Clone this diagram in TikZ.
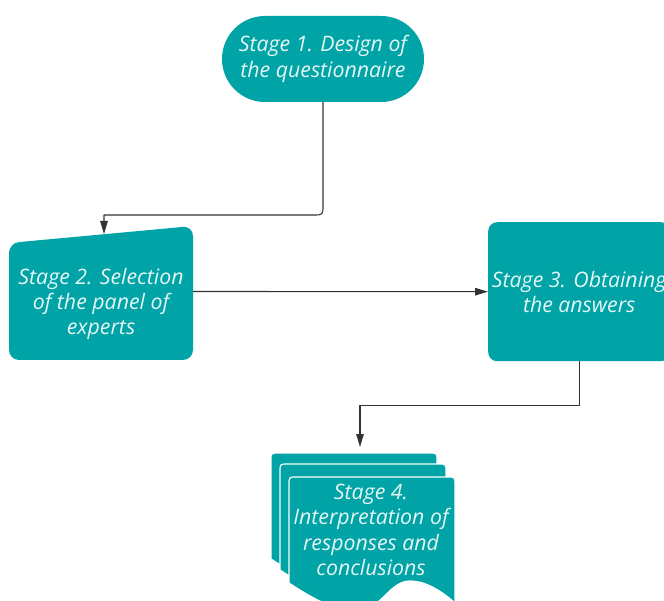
\documentclass[tikz,border=0pt]{standalone}
\usepackage{fontspec}
\setmainfont{Open Sans}
\usetikzlibrary{arrows.meta}
\definecolor{stageteal}{HTML}{00A3A6}
\definecolor{stagetext}{HTML}{E4F6F5}
\definecolor{linkgray}{HTML}{333333}
\begin{document}
\begin{tikzpicture}[x=1pt, y=-1pt, font=\fontsize{21.3}{25.3}\selectfont\itshape, line join=round, >={Triangle[length=13pt,width=7.5pt]},
	stagebox/.style={fill=stageteal, text=stagetext, align=center, inner sep=0pt},
	stagelabel/.style={text=stagetext, align=center, inner sep=0pt},
	link/.style={draw=linkgray, line width=1.1pt},
	sheet/.style={fill=stageteal, draw=white, line width=1.2pt}]
			\clip (0,0) rectangle (664,601);
			\node[stagebox, rounded corners=43pt, minimum width=202pt, minimum height=86pt] (stage1) at (323,59) {Stage 1. Design of\\the questionnaire};
			\fill[stageteal, rounded corners=10pt] (9,243) -- (193,226) -- (193,360) -- (9,360) -- cycle;
			\node[stagelabel] (stage2) at (101,304) {Stage 2. Selection\\of the panel of\\experts};
			\coordinate (stage2in) at (104,234);
			\coordinate (stage2out) at (193,291.5);
			\node[stagebox, rounded corners=9pt, minimum width=182pt, minimum height=139pt, anchor=north west] (stage3) at (488,222) {Stage 3. Obtaining\\the answers};
			\foreach \dx/\dy in {-18/-24, -9/-13, 0/0} {
				\begin{scope}[shift={(\dx,\dy)}]
					\path[sheet] (289,583) -- (289,485) .. controls (289,477) .. (297,477) -- (447,477) .. controls (455,477) .. (455,485) -- (455,603) .. controls (445,594) and (428,581) .. (410,581) .. controls (390,581) and (382,608) .. (360,610) .. controls (335,612) and (312,598) .. (289,583) -- cycle;
				\end{scope}
			}
			\node[stagelabel] (stage4) at (371,530) {Stage 4.\\Interpretation of\\responses and\\conclusions};
			\coordinate (stage4in) at (360,447);
			% connectors
			\draw[link,->] (stage1.south) -- (323,205) .. controls (323,215) .. (313,215) -- (104,215) -- (stage2in);
			\draw[link,->] (stage2out) -- (stage3.west);
			\draw[link,->] (stage3.south) -- ++(0,44) -| (stage4in);
		\end{tikzpicture}
\end{document}
